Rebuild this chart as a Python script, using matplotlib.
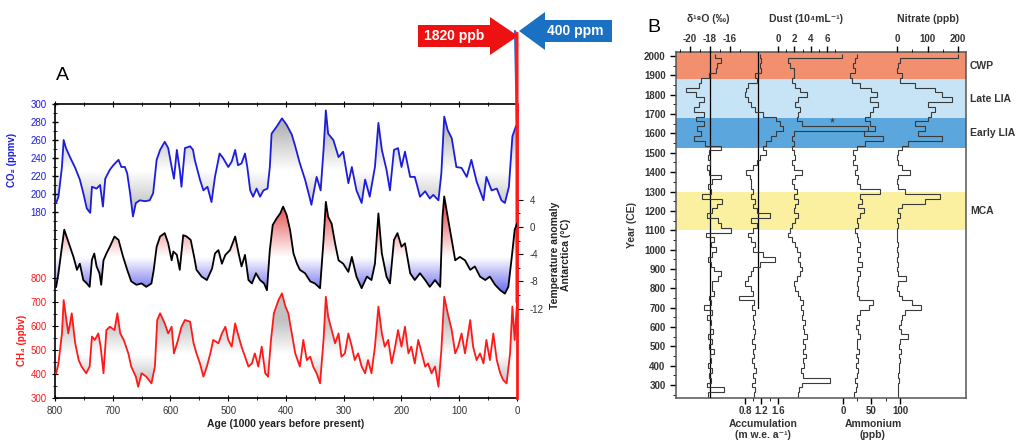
import numpy as np
import matplotlib
matplotlib.use('Agg')
import matplotlib.pyplot as plt
import matplotlib.colors as mcolors
from matplotlib.path import Path
from matplotlib.patches import FancyArrow
from matplotlib.transforms import blended_transform_factory

plt.rcParams['font.family'] = ['Liberation Sans', 'DejaVu Sans']
plt.rcParams['axes.unicode_minus'] = False

# ---------------- panel A: ice core records (age in kyr BP) ----------------
co2_age = [798, 794, 788, 785, 781, 774, 765, 757, 751, 745, 739, 736, 728, 722, 717, 713, 705, 699, 690, 685,
           679, 675, 670, 665, 660, 653, 644, 636, 630, 624, 618, 610, 604, 598, 594, 589, 584, 581, 575, 566,
           561, 558, 549, 543, 536, 529, 523, 515, 509, 500, 494, 488, 483, 477, 471, 467, 462, 457, 451, 445,
           439, 432, 428, 425, 416, 407, 399, 390, 384, 376, 367, 361, 356, 347, 340, 335, 331, 327, 318, 309,
           301, 292, 286, 278, 269, 263, 255, 246, 240, 234, 226, 220, 213, 206, 200, 194, 185, 177, 168, 159,
           151, 145, 136, 131, 126, 120, 113, 105, 96, 87, 79, 70, 58, 53, 44, 35, 27, 21, 14, 8, 2, 0]
co2_val = [190, 197, 230, 260, 251, 241, 229, 216, 201, 184, 179, 208, 206, 210, 186, 217, 227, 232, 238, 230,
           230, 223, 201, 175, 190, 193, 192, 193, 201, 238, 249, 258, 251, 230, 217, 249, 227, 208, 251, 253,
           249, 238, 216, 204, 208, 191, 219, 245, 240, 230, 236, 249, 232, 234, 245, 230, 204, 197, 206, 197,
           204, 206, 230, 267, 275, 284, 277, 266, 253, 234, 216, 201, 188, 219, 204, 249, 293, 267, 260, 241,
           247, 212, 230, 204, 190, 216, 197, 230, 279, 249, 227, 204, 249, 251, 230, 247, 219, 219, 197, 203,
           195, 199, 193, 223, 286, 271, 262, 230, 229, 219, 238, 214, 193, 219, 204, 206, 193, 190, 208, 264, 275, 277]

temp_age = [798, 794, 788, 784, 780, 774, 768, 762, 757, 751, 745, 740, 736, 732, 728, 723, 720, 716, 711, 705,
            697, 690, 682, 675, 668, 659, 650, 642, 633, 629, 624, 618, 610, 604, 598, 595, 589, 584, 578, 572,
            565, 559, 555, 546, 537, 528, 523, 517, 511, 505, 497, 488, 482, 477, 471, 465, 459, 452, 445, 438,
            433, 428, 423, 416, 410, 405, 399, 393, 387, 381, 376, 367, 358, 350, 341, 335, 331, 327, 321, 315,
            309, 301, 292, 286, 278, 269, 260, 252, 246, 240, 234, 226, 220, 213, 207, 200, 194, 185, 177, 168,
            159, 151, 142, 133, 129, 126, 120, 113, 107, 99, 90, 81, 73, 64, 55, 47, 38, 29, 21, 15, 9, 4, 0]
temp_val = [-8.8, -6.8, -2.9, -0.4, -1.4, -2.9, -4.4, -6.3, -5.4, -7.8, -8.3, -8.8, -4.8, -3.9, -5.8, -6.8, -8.5, -4.9, -3.9, -2.9,
            -1.4, -1.9, -4.4, -6.3, -8.0, -8.5, -8.3, -8.8, -8.3, -6.3, -2.9, -1.4, -0.9, -2.4, -4.9, -3.6, -4.1, -6.3, -1.2, -1.4,
            -1.9, -4.4, -6.3, -7.3, -7.8, -6.1, -3.9, -3.4, -5.4, -4.1, -3.4, -1.4, -3.9, -5.8, -4.1, -7.8, -8.3, -6.8, -7.8, -8.3,
            -9.3, -3.4, 0.3, 1.3, 2.0, 3.0, 1.8, -0.4, -3.9, -5.4, -6.3, -6.8, -8.0, -8.3, -9.0, -1.9, 3.7, 1.5, 0.5, -2.4,
            -4.9, -5.4, -6.6, -4.4, -7.3, -9.0, -7.3, -7.8, -5.4, 2.0, -3.9, -7.3, -8.3, -1.9, -0.9, -2.9, -2.4, -6.8, -7.8, -6.8,
            -7.8, -8.8, -7.8, -8.8, 1.5, 4.5, 1.5, -1.9, -4.9, -4.4, -4.9, -6.3, -5.8, -7.3, -7.8, -7.3, -8.5, -9.3, -9.8, -8.8, -4.4, -0.4, 0.5]

ch4_age = [798, 794, 788, 785, 781, 777, 771, 765, 759, 754, 746, 740, 736, 731, 725, 721, 716, 711, 705, 697,
           692, 687, 681, 673, 668, 660, 656, 650, 642, 633, 627, 623, 618, 610, 604, 598, 594, 587, 581, 575,
           566, 560, 555, 549, 543, 537, 531, 526, 517, 511, 505, 500, 494, 488, 482, 477, 471, 465, 459, 454,
           448, 442, 436, 431, 426, 421, 413, 407, 401, 396, 390, 384, 376, 370, 364, 358, 353, 347, 341, 335,
           331, 327, 321, 315, 309, 304, 298, 292, 286, 281, 275, 269, 263, 258, 252, 246, 240, 234, 229, 223,
           217, 211, 206, 200, 194, 188, 183, 177, 171, 165, 159, 154, 148, 142, 136, 131, 126, 120, 113, 107,
           102, 96, 90, 81, 76, 70, 64, 58, 53, 47, 41, 35, 29, 24, 18, 12, 8, 4, 0]
ch4_val = [403, 444, 569, 708, 639, 569, 653, 528, 458, 431, 403, 431, 556, 542, 569, 514, 403, 583, 597, 583,
           653, 569, 542, 486, 431, 389, 347, 403, 389, 361, 431, 625, 653, 611, 569, 597, 486, 542, 597, 625,
           618, 528, 486, 444, 389, 431, 486, 542, 528, 569, 597, 542, 514, 611, 556, 514, 472, 431, 444, 486,
           431, 514, 403, 389, 542, 653, 708, 736, 681, 653, 569, 486, 431, 542, 458, 472, 431, 403, 361, 542,
           722, 639, 583, 528, 569, 472, 486, 569, 514, 458, 486, 431, 403, 458, 403, 514, 681, 569, 514, 542,
           444, 514, 583, 514, 597, 486, 514, 444, 542, 486, 431, 444, 403, 431, 347, 500, 722, 653, 583, 486,
           514, 569, 486, 625, 514, 458, 486, 444, 542, 458, 569, 458, 403, 375, 361, 486, 681, 542, 700]

co2_modern = 400
ch4_modern = 1820

# ---------------- panel B: ice core proxies, 25-year steps 250-2000 CE ----------------
years = np.arange(250, 2001, 25)
d18o = [-18.2, -16.6, -18.3, -17.9, -18.1, -17.8, -18.2, -17.9, -18.0, -17.6, -18.1, -17.8, -18.2, -17.7, -18.0, -17.9,
        -18.3, -17.8, -18.6, -17.9, -18.1, -17.6, -17.8, -17.8, -17.2, -16.9, -17.6, -17.9, -18.2, -17.8, -17.4, -17.9,
        -17.6, -18.4, -15.9, -16.9, -17.2, -18.3, -17.8, -17.3, -16.8, -18.8, -17.9, -18.2, -17.8, -16.9, -18.1, -18.3,
        -18.0, -18.2, -18.1, -16.9, -18.5, -19.6, -18.9, -19.3, -18.6, -19.4, -18.6, -19.6, -19.1, -18.6, -19.4, -20.4,
        -19.1, -18.9, -18.1, -17.4, -17.3, -16.9, -17.5]
accum = [1.02, 1.05, 0.98, 1.04, 1.0, 1.06, 1.02, 0.97, 1.03, 1.0, 1.05, 0.98, 1.02, 1.04, 0.99, 1.03, 1.0, 1.05,
         0.97, 1.02, 0.65, 1.0, 0.95, 0.79, 0.87, 0.95, 1.0, 1.16, 1.52, 1.24, 1.0, 1.04, 0.95, 0.87, 1.0, 1.08,
         0.95, 1.4, 1.08, 1.0, 1.04, 0.95, 1.0, 0.95, 0.95, 0.91, 0.83, 1.0, 1.08, 1.16, 1.32, 1.24, 1.32, 1.44,
         1.56, 1.73, 1.64, 1.56, 1.24, 1.04, 0.95, 0.87, 0.79, 0.83, 0.87, 1.08, 1.04, 1.2, 1.16, 1.2, 1.16]
dust = [2.4, 2.6, 2.9, 6.3, 3.0, 2.8, 3.2, 3.0, 3.4, 3.1, 3.3, 3.0, 3.5, 3.2, 3.0, 3.3, 2.9, 3.1, 2.8, 3.0, 2.7, 2.5,
        2.1, 1.9, 2.3, 2.7, 2.9, 2.7, 2.5, 2.7, 2.3, 2.1, 1.7, 1.2, 1.5, 1.7, 2.1, 2.5, 1.9, 2.1, 2.5, 1.9, 2.3, 1.9,
        1.7, 2.1, 2.9, 1.9, 1.7, 2.1, 1.9, 1.7, 1.9, 1.7, 1.9, 11.0, 2.9, 2.3, 2.5, 2.7, 2.1, 2.5, 3.5, 2.7, 2.1, 1.7,
        1.9, 1.9, 1.5, 1.2, 7.8]
ammonium = [20, 22, 25, 21, 24, 27, 23, 26, 22, 28, 25, 24, 30, 26, 23, 28, 25, 30, 45, 52, 28, 24,
            27, 24, 27, 30, 24, 33, 27, 30, 24, 30, 27, 24, 21, 27, 24, 30, 36, 27, 33, 30, 65, 30, 24, 27,
            21, 24, 18, 21, 18, 24, 39, 71, 36, 56, 47, 39, 47, 53, 62, 47, 59, 50, 30, 15, 12, 21, 18, 21, 24]
nitrate = [2, 4, 3, 6, 4, 8, 5, 10, 6, 12, 8, 10, 35, 12, 8, 14, 18, 25, 80, 50, 15, 6,
           1, 4, 31, 4, 1, 4, 1, 4, 1, 4, 1, 0, 1, 4, 1, 10, 4, 15, 91, 140, 26, 4, 1, 4,
           42, 15, 4, 1, 4, 15, 36, 146, 69, 91, 58, 102, 113, 124, 102, 179, 146, 124, 58, 10, 15, 1, 4, 10, 200]
d18o_ref = -18.0
accum_ref = 1.12
accum_ref_from = 700

periods = ['CWP', 'Late LIA', 'Early LIA', 'MCA']
period_start = [1880, 1680, 1525, 1100]
period_end = [2021, 1880, 1680, 1300]
period_colors = ['#f28f6e', '#c6e4f6', '#5ba6dc', '#faf0a0']

W, H = 1020, 444
fig = plt.figure(figsize=(W / 100, H / 100), dpi=100)


def rect(x0, y0, x1, y1):
    return [x0 / W, 1 - y1 / H, (x1 - x0) / W, (y1 - y0) / H]


def grad_fill(ax, x, y, ref, span, c_hi, c_lo, a_hi, a_lo, lo, hi):
    x = np.asarray(x, float)
    y = np.asarray(y, float)
    poly = ax.fill_between(x, y, ref, facecolor='none', edgecolor='none', interpolate=True)
    lev = np.linspace(lo, hi, 400)
    img = np.zeros((400, 1, 4))
    above = lev >= ref
    img[above, 0, :3] = mcolors.to_rgb(c_hi)
    img[~above, 0, :3] = mcolors.to_rgb(c_lo)
    a = np.clip(np.abs(lev - ref) / span, 0, 1)
    img[:, 0, 3] = np.where(above, a * a_hi, a * a_lo)
    im = ax.imshow(img, extent=[x.min(), x.max(), lo, hi], origin='lower', aspect='auto',
                   interpolation='bilinear', zorder=1)
    im.set_clip_path(Path.make_compound_path(*poly.get_paths()), ax.transData)


# ---------------- panel A ----------------
blue = '#1c1cdc'
red = '#ff1a1a'
ax_co2 = fig.add_axes(rect(55, 104, 517, 398))
ax_ch4 = ax_co2.twinx()
ax_t = ax_co2.twinx()

grad_fill(ax_co2, co2_age, co2_val, 226, 50, '#777777', '#777777', 0.55, 0.55, 150, 300)
ax_co2.plot(co2_age, co2_val, color=blue, lw=1.3, zorder=3)
grad_fill(ax_t, temp_age, temp_val, -4.4, 7, '#e02020', '#2020e6', 0.75, 0.9, -12, 6)
ax_t.plot(temp_age, temp_val, color='black', lw=1.3, zorder=3)
grad_fill(ax_ch4, ch4_age, ch4_val, 480, 140, '#777777', '#777777', 0.45, 0.55, 300, 800)
ax_ch4.plot(ch4_age, ch4_val, color=red, lw=1.3, zorder=3)

for a in (ax_co2, ax_ch4, ax_t):
    a.set_xlim(800, 0)
ax_co2.set_ylim(300 - 294 / 0.9, 300)
ax_ch4.set_ylim(300, 300 + 294 / 0.24)
ax_t.set_ylim(-171 / 6.8, 123 / 6.8)

ax_co2.set_yticks(np.arange(180, 301, 20))
ax_co2.set_yticks(np.arange(140, 301, 10), minor=True)
ax_co2.tick_params(axis='y', colors=blue, labelsize=7, direction='inout', length=5, width=1)
ax_co2.tick_params(axis='y', which='minor', colors='black', direction='inout', length=3)
ax_co2.tick_params(axis='y', which='major', color='black')
ax_co2.set_xticks(np.arange(0, 801, 100))
ax_co2.set_xticks(np.arange(50, 800, 100), minor=True)
ax_co2.tick_params(axis='x', labelsize=7, labelcolor='#333333', direction='inout', length=5, top=True, which='both')
ax_co2.tick_params(axis='x', which='minor', length=3)
ax_co2.set_xlabel('Age (1000 years before present)', fontsize=7.5, weight='bold', color='#222222', labelpad=2)

ax_ch4.yaxis.tick_left()
ax_ch4.set_yticks(np.arange(300, 801, 100))
ax_ch4.set_yticks(np.arange(350, 800, 50), minor=True)
ax_ch4.tick_params(axis='y', labelcolor=red, color='black', labelsize=7, direction='inout', length=5)
ax_ch4.tick_params(axis='y', which='minor', direction='inout', length=3)

ax_t.set_yticks([-12, -8, -4, 0, 4])
ax_t.set_yticks(np.arange(-12, 5, 2), minor=True)
ax_t.tick_params(axis='y', labelsize=7, labelcolor='#333333', direction='out', length=4, pad=5)
ax_t.tick_params(axis='y', which='minor', direction='out', length=2.5)

for s in ('top', 'bottom', 'left', 'right'):
    ax_ch4.spines[s].set_visible(False)
    ax_t.spines[s].set_visible(False)
ax_co2.spines['right'].set_visible(False)
ax_t.spines['right'].set_visible(True)
ax_t.spines['right'].set_color(red)
ax_t.spines['right'].set_linewidth(2)
for s in ('top', 'bottom', 'left'):
    ax_co2.spines[s].set_linewidth(1.2)

ax_co2.set_ylabel('CO₂ (ppmv)', color=blue, fontsize=7, weight='bold')
ax_co2.yaxis.set_label_coords(-0.082, 0.81)
ax_ch4.set_ylabel('CH₄ (ppbv)', color=red, fontsize=7, weight='bold')
ax_ch4.yaxis.set_label_coords(-0.082, 0.197)
ax_t.set_ylabel('Temperature anomaly\nAntarctica (°C)', fontsize=7.5, weight='bold', color='#222222')
ax_t.yaxis.set_label_coords(1.071, 0.486)

# modern values and arrows
ax_ch4.annotate('', xy=(0, ch4_val[-1]), xytext=(0, ch4_modern), textcoords='data',
                arrowprops=dict(arrowstyle='-', color=red, lw=2.2, shrinkA=0, shrinkB=0), annotation_clip=False)
ax_co2.annotate('', xy=(0, co2_val[-1]), xytext=(515 / W, 1 - 31 / H), textcoords='figure fraction',
                arrowprops=dict(arrowstyle='-', color='#2a6fd0', lw=1.6, shrinkA=0, shrinkB=0), annotation_clip=False)

fig.add_artist(FancyArrow(418 / W, 1 - 36 / H, 100 / W, 0, width=22 / H, head_width=38 / H, head_length=28 / W,
                          length_includes_head=True, transform=fig.transFigure, color='#ee1111', lw=0))
fig.add_artist(FancyArrow(612 / W, 1 - 31 / H, -93 / W, 0, width=22 / H, head_width=38 / H, head_length=26 / W,
                          length_includes_head=True, transform=fig.transFigure, color='#1a70c2', lw=0))
fig.text(454 / W, 1 - 36 / H, '1820 ppb', color='white', weight='bold', fontsize=10, ha='center', va='center')
fig.text(575 / W, 1 - 31 / H, '400 ppm', color='white', weight='bold', fontsize=10, ha='center', va='center')
fig.text(62 / W, 1 - 75 / H, 'A', fontsize=14, ha='center', va='center')

# ---------------- panel B ----------------
dark = '#333333'
ax_b = fig.add_axes(rect(676, 52, 966, 398))
ax_b.set_ylim(233, 2021)
ax_b.set_xlim(0, 1)
ax_b.set_xticks([])
ax_b.set_yticks(np.arange(300, 2001, 100))
ax_b.set_yticks(np.arange(250, 2001, 50), minor=True)
ax_b.tick_params(axis='y', labelsize=7, labelcolor=dark, direction='out', length=4, width=1)
ax_b.tick_params(axis='y', which='minor', length=2)
for lab in ax_b.get_yticklabels():
    lab.set_fontweight('bold')
ax_b.set_ylabel('Year (CE)', fontsize=7.5, weight='bold', color=dark)
ax_b.yaxis.set_label_coords(-0.135, 0.5)
for s in ax_b.spines.values():
    s.set_color('#555555')
    s.set_linewidth(1.1)

tr = blended_transform_factory(ax_b.transAxes, ax_b.transData)
for name, y0, y1, c in zip(periods, period_start, period_end, period_colors):
    ax_b.axhspan(y0, y1, color=c, lw=0, zorder=0)
    ax_b.text(1.014, (y0 + min(y1, 2015)) / 2, name, transform=tr, fontsize=7.5, weight='bold',
              color=dark, va='center', ha='left')

edges = np.append(years - 12.5, years[-1] + 12.5)

series = [
    (d18o, (-21.4, 7.6), 'top', [-20, -18, -16], np.arange(-21, -14, 1), 'δ¹⁸O (‰)', 0.11),
    (accum, (-0.873, 6.16), 'bottom', [0.8, 1.2, 1.6], [1.0, 1.4], 'Accumulation\n(m w.e. a⁻¹)', 0.30),
    (dust, (-12.44, 22.93), 'top', [0, 2, 4, 6], [1, 3, 5, 7], 'Dust (10⁴mL⁻¹)', 0.448),
    (ammonium, (-293, 215.8), 'bottom', [0, 50, 100], [25, 75], 'Ammonium\n(ppb)', 0.679),
    (nitrate, (-724.6, 226.2), 'top', [0, 100, 200], [50, 150], 'Nitrate (ppb)', 0.869),
]
axes_b = []
for vals, lim, side, major, minor, label, lx in series:
    s_ax = ax_b.twiny()
    s_ax.set_xlim(*lim)
    for sp in s_ax.spines.values():
        sp.set_visible(False)
    s_ax.stairs(vals, edges, orientation='horizontal', baseline=None, color='#3a3a3a', lw=0.8, zorder=3)
    s_ax.set_xticks(major)
    s_ax.set_xticks(minor, minor=True)
    if side == 'top':
        s_ax.xaxis.tick_top()
        s_ax.xaxis.set_label_position('top')
    else:
        s_ax.xaxis.tick_bottom()
        s_ax.xaxis.set_label_position('bottom')
    s_ax.tick_params(axis='x', labelsize=7, labelcolor=dark, direction='out', length=4, width=1, pad=1.5)
    s_ax.tick_params(axis='x', which='minor', length=2)
    for lab in s_ax.get_xticklabels():
        lab.set_fontweight('bold')
    s_ax.set_xlabel(label, fontsize=7.5, weight='bold', color=dark, linespacing=1.2)
    if side == 'top':
        s_ax.xaxis.set_label_coords(lx, 1.095)
        s_ax.xaxis.get_label().set_va('center')
    else:
        s_ax.xaxis.set_label_coords(lx, -0.06)
        s_ax.xaxis.get_label().set_va('top')
    s_ax.xaxis.get_label().set_ha('center')
    axes_b.append(s_ax)

axes_b[0].axvline(d18o_ref, color='black', lw=0.9, zorder=2)
axes_b[1].plot([accum_ref, accum_ref], [accum_ref_from, 2021], color='black', lw=0.9, zorder=2)
axes_b[2].text(6.6, 1650, '*', fontsize=9, ha='center', va='center', color=dark)

fig.text(654 / W, 1 - 28 / H, 'B', fontsize=14, ha='center', va='center')

fig.savefig('out.png', dpi=100)
